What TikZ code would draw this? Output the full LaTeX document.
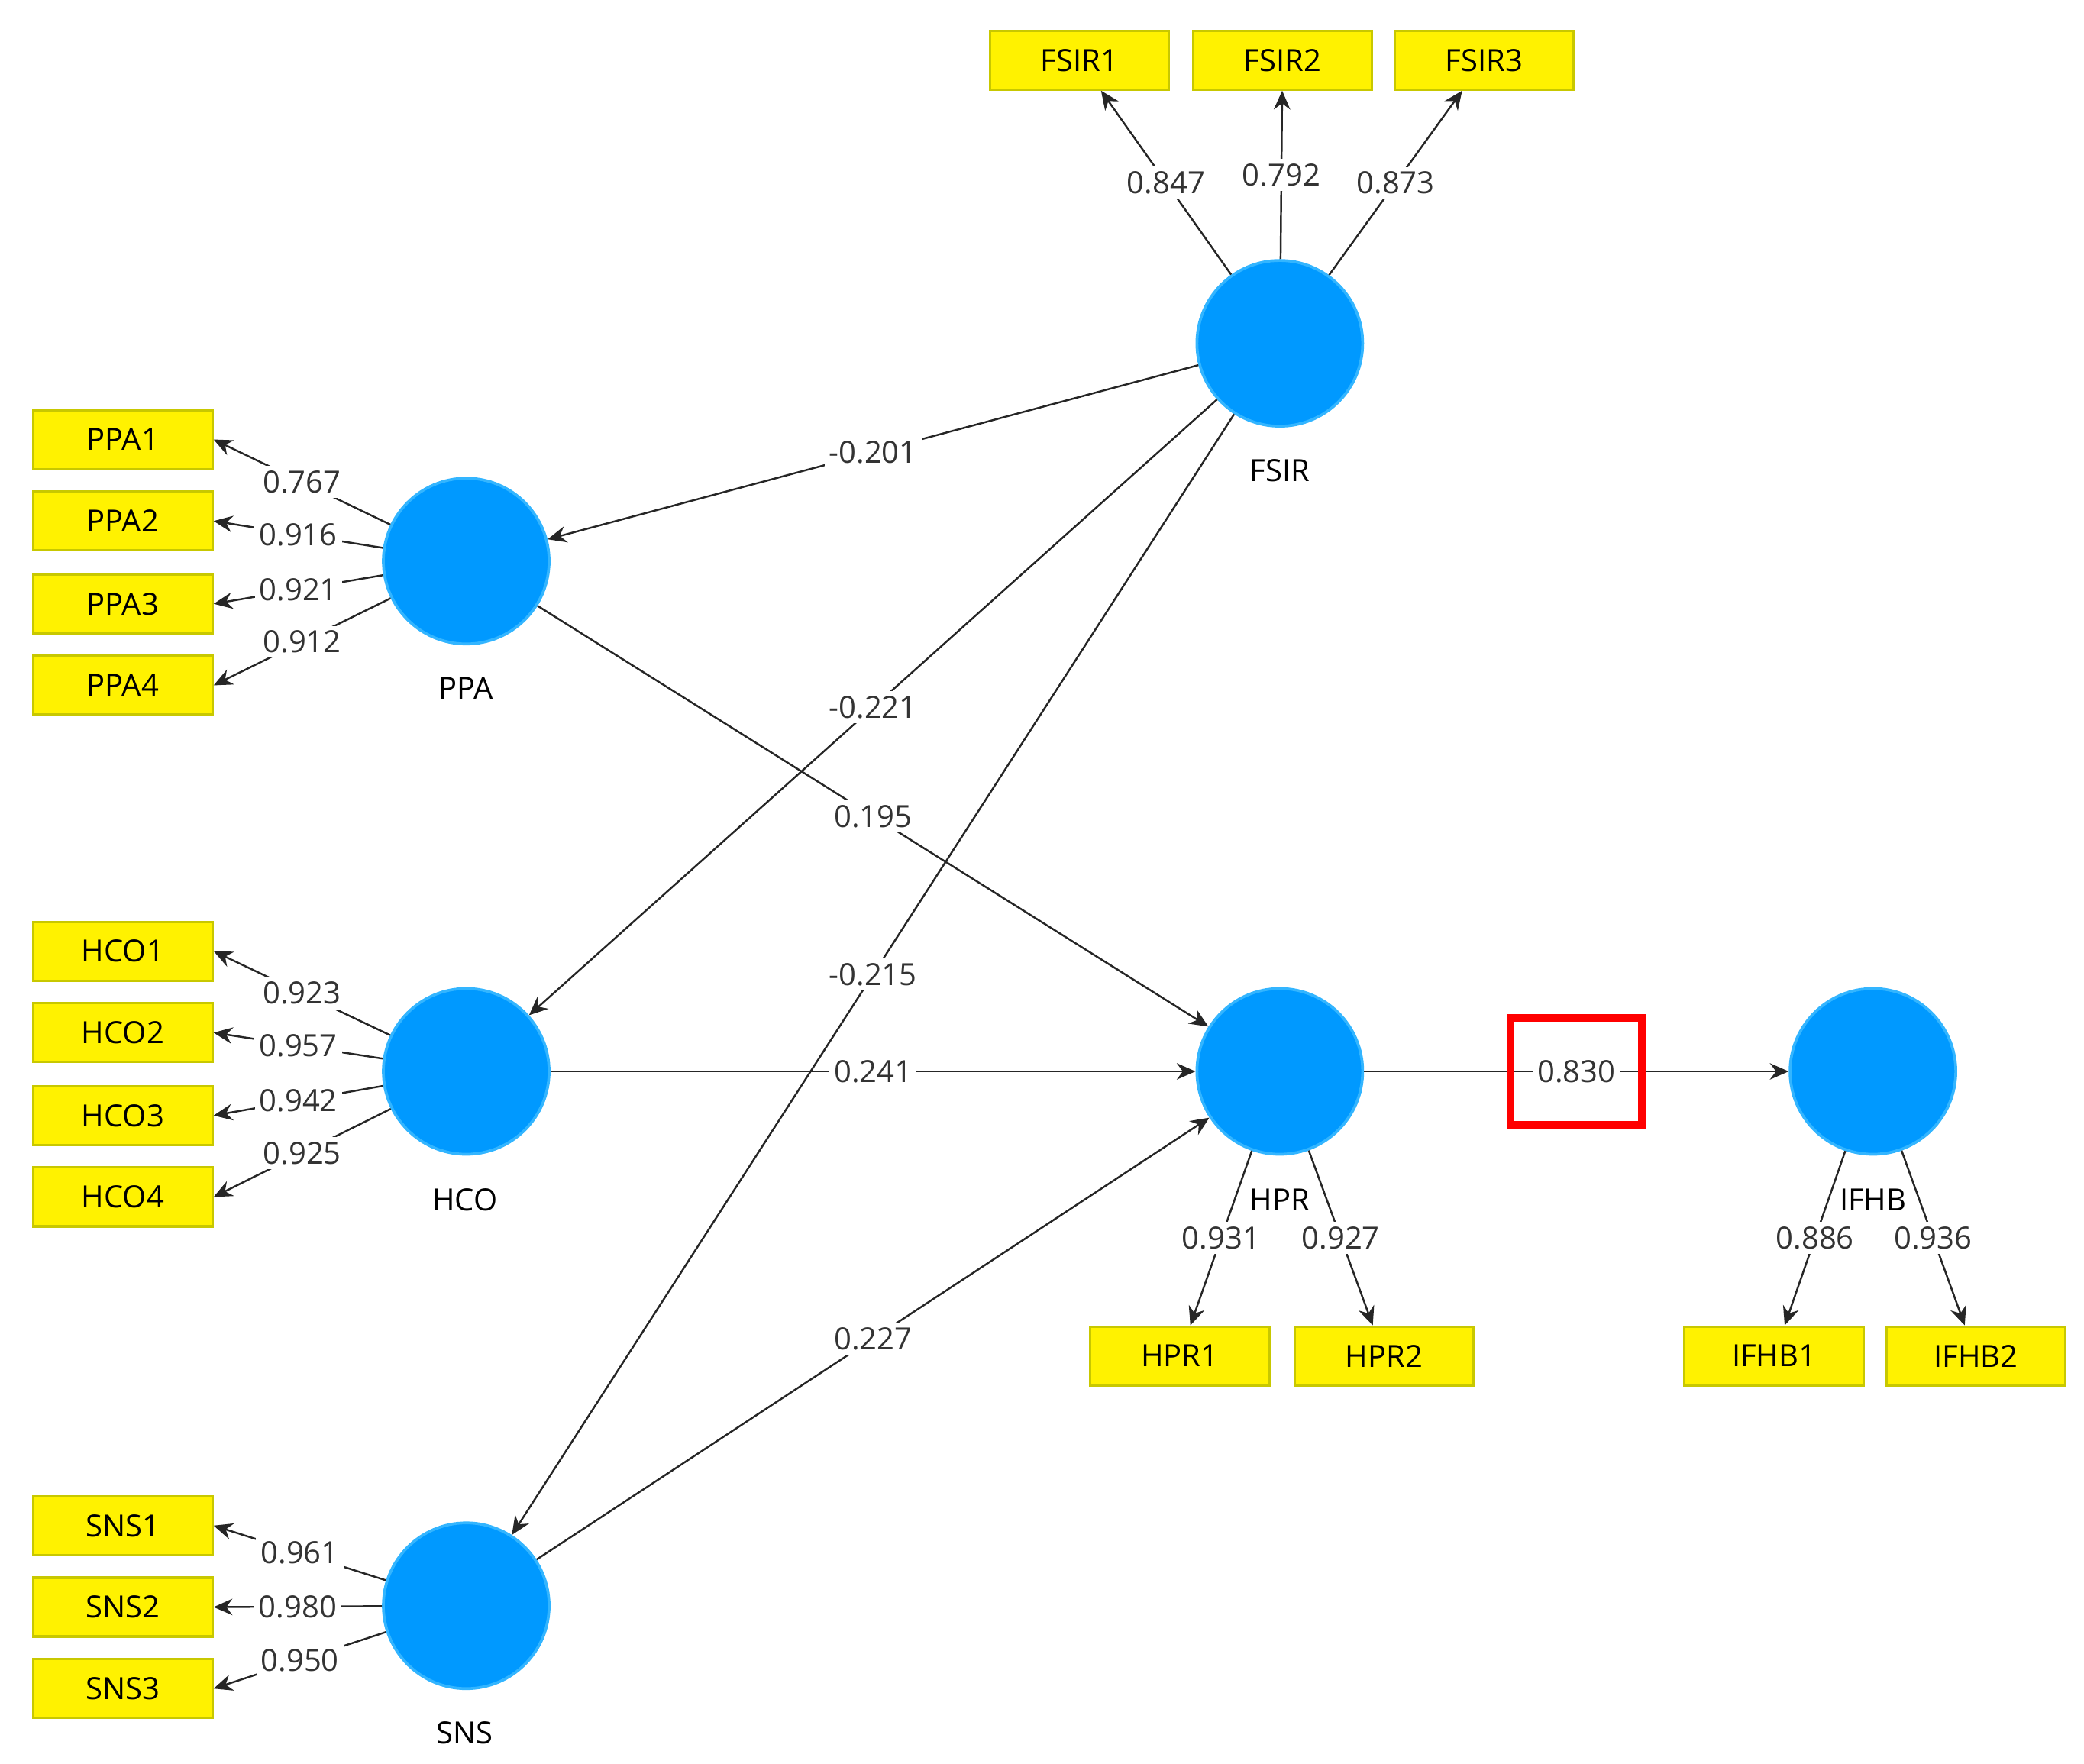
\documentclass[tikz,border=0pt]{standalone}
\usepackage{fontspec}
\setmainfont{Open Sans}
\usetikzlibrary{arrows.meta}
\begin{document}
\begin{tikzpicture}[x=0.01cm,y=-0.01cm,
  lat/.style={circle,fill=blue0,draw=blue1,line width=0.6pt,minimum size=1.24cm,inner sep=0pt},
  ind/.style={rectangle,fill=yellow,draw=ybord,line width=0.5pt,minimum width=1.34cm,minimum height=0.44cm,inner sep=0pt,font=\fontsize{6.5}{7}\selectfont},
  lbl/.style={font=\fontsize{6.5}{7}\selectfont},
  ed/.style={draw=black!85,line width=0.4pt,-{Stealth[length=4pt,width=3.5pt]}},
  el/.style={fill=white,inner sep=1pt,font=\fontsize{6.5}{7}\selectfont,text=black!80}]
\definecolor{blue0}{HTML}{0099FF}
\definecolor{blue1}{HTML}{33B5FF}
\definecolor{ybord}{HTML}{C8C800}
\useasboundingbox (0,0) rectangle (1560,1320);
% latent
\node[lat] (fsir) at (958,257) {};
\node[lat] (ppa) at (349,420) {};
\node[lat] (hco) at (349,802) {};
\node[lat] (sns) at (349,1202) {};
\node[lat] (hpr) at (958,802) {};
\node[lat] (ifhb) at (1402,802) {};
\node[lbl] (lfsir) at (958,352) {FSIR};
\node[lbl] (lppa) at (349,515) {PPA};
\node[lbl] (lhco) at (348,898) {HCO};
\node[lbl] (lsns) at (348,1297) {SNS};
\node[lbl] (lhpr) at (958,898) {HPR};
\node[lbl] (lifhb) at (1402,898) {IFHB};
% indicators
\node[ind] (f1) at (808,45) {FSIR1};
\node[ind] (f2) at (960,45) {FSIR2};
\node[ind] (f3) at (1111,45) {FSIR3};
\node[ind] (p1) at (92,329) {PPA1};
\node[ind] (p2) at (92,390) {PPA2};
\node[ind] (p3) at (92,452) {PPA3};
\node[ind] (p4) at (92,513) {PPA4};
\node[ind] (h1) at (92,712) {HCO1};
\node[ind] (h2) at (92,773) {HCO2};
\node[ind] (h3) at (92,835) {HCO3};
\node[ind] (h4) at (92,896) {HCO4};
\node[ind] (s1) at (92,1142) {SNS1};
\node[ind] (s2) at (92,1203) {SNS2};
\node[ind] (s3) at (92,1264) {SNS3};
\node[ind] (r1) at (883,1015) {HPR1};
\node[ind] (r2) at (1036,1015) {HPR2};
\node[ind] (i1) at (1328,1015) {IFHB1};
\node[ind] (i2) at (1479,1015) {IFHB2};
% loadings
\draw[ed] (fsir) -- node[el]{0.847} (f1);
\draw[ed] (fsir) -- node[el]{0.792} (f2);
\draw[ed] (fsir) -- node[el]{0.873} (f3);
\draw[ed] (ppa) -- node[el]{0.767} (p1.east);
\draw[ed] (ppa) -- node[el]{0.916} (p2.east);
\draw[ed] (ppa) -- node[el]{0.921} (p3.east);
\draw[ed] (ppa) -- node[el]{0.912} (p4.east);
\draw[ed] (hco) -- node[el]{0.923} (h1.east);
\draw[ed] (hco) -- node[el]{0.957} (h2.east);
\draw[ed] (hco) -- node[el]{0.942} (h3.east);
\draw[ed] (hco) -- node[el]{0.925} (h4.east);
\draw[ed] (sns) -- node[el]{0.961} (s1.east);
\draw[ed] (sns) -- node[el]{0.980} (s2.east);
\draw[ed] (sns) -- node[el]{0.950} (s3.east);
\draw[ed] (hpr) -- node[el]{0.931} (r1);
\draw[ed] (hpr) -- node[el]{0.927} (r2);
\draw[ed] (ifhb) -- node[el]{0.886} (i1);
\draw[ed] (ifhb) -- node[el]{0.936} (i2);
% paths
\draw[ed] (fsir) -- node[el]{-0.201} (ppa);
\draw[ed] (fsir) -- node[el]{-0.221} (hco);
\draw[ed] (fsir) -- node[el]{-0.215} (sns);
\draw[ed] (ppa) -- node[el]{0.195} (hpr);
\draw[ed] (hco) -- node[el]{0.241} (hpr);
\draw[ed] (sns) -- node[el]{0.227} (hpr);
\draw[ed] (hpr) -- node[el](c830){0.830} (ifhb);
\node[draw=red,line width=1.6pt,minimum width=0.98cm,minimum height=0.8cm,inner sep=0pt] (redbox) at (c830) {};
\end{tikzpicture}
\end{document}
